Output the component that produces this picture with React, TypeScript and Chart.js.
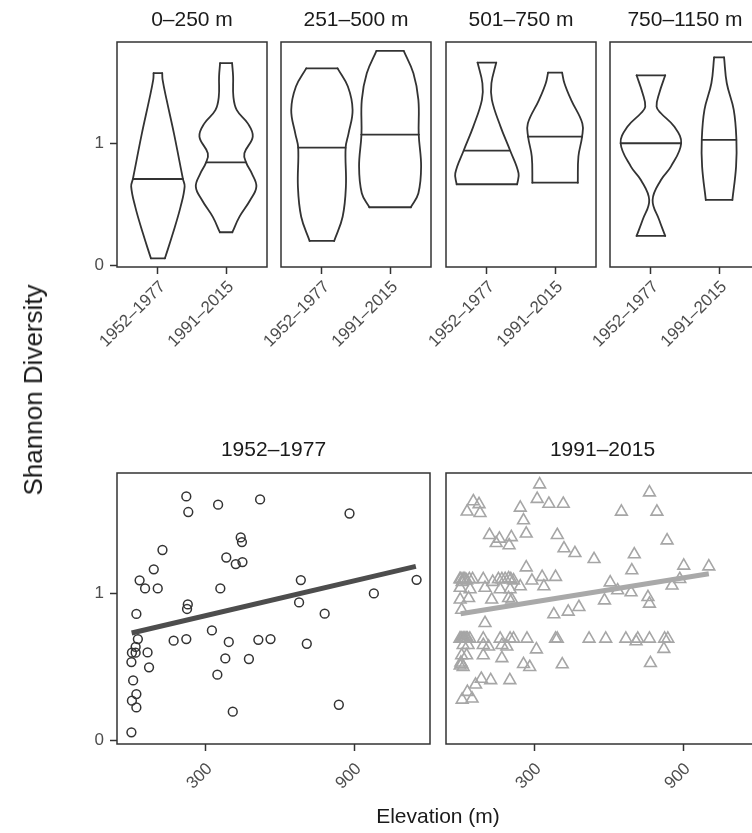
import React, { useEffect, useRef } from 'react';
import { Chart, registerables } from 'chart.js';
Chart.register(...registerables);

const FONT = "'Liberation Sans', Arial, Helvetica, sans-serif";

const bandLabels = ['0–250 m', '251–500 m', '501–750 m', '750–1150 m'];
const periodLabels = ['1952–1977', '1991–2015'];
const diversityTicks = [0, 1];
const elevationTicks = [300, 900];

// Violin outlines: [Shannon diversity, half width in category units]
const violin0_250_1952 = [[0.06, 0.103], [0.264, 0.22], [0.482, 0.333], [0.646, 0.392], [0.708, 0.367], [0.864, 0.312], [1.081, 0.235], [1.354, 0.128], [1.517, 0.069], [1.572, 0.063]];
const violin0_250_1991 = [[0.273, 0.092], [0.398, 0.195], [0.534, 0.352], [0.646, 0.444], [0.754, 0.377], [0.844, 0.293], [0.918, 0.268], [1.054, 0.391], [1.162, 0.318], [1.27, 0.157], [1.38, 0.107], [1.544, 0.103], [1.654, 0.088]];
const violin251_500_1952 = [[0.202, 0.18], [0.4, 0.304], [0.646, 0.352], [0.964, 0.348], [1.081, 0.391], [1.272, 0.45], [1.463, 0.381], [1.612, 0.23]];
const violin251_500_1991 = [[0.477, 0.304], [0.592, 0.415], [0.809, 0.455], [1.071, 0.42], [1.354, 0.415], [1.572, 0.342], [1.754, 0.2]];
const violin501_750_1952 = [[0.665, 0.444], [0.755, 0.464], [0.939, 0.342], [1.136, 0.2], [1.354, 0.073], [1.49, 0.066], [1.659, 0.137]];
const violin501_750_1991 = [[0.678, 0.333], [0.892, 0.342], [1.054, 0.396], [1.162, 0.4], [1.354, 0.235], [1.49, 0.137], [1.577, 0.103]];
const violin750_1150_1952 = [[0.243, 0.21], [0.373, 0.122], [0.537, 0.025], [0.7, 0.147], [0.809, 0.293], [1.0, 0.444], [1.136, 0.342], [1.245, 0.147], [1.299, 0.083], [1.408, 0.122], [1.555, 0.21]];
const violin750_1150_1991 = [[0.537, 0.195], [0.809, 0.249], [1.027, 0.254], [1.272, 0.215], [1.49, 0.113], [1.702, 0.073]];

// Medians: [diversity, half width]
const medians1952 = [[0.708, 0.367], [0.964, 0.347], [0.939, 0.327], [1.0, 0.444]];
const medians1991 = [[0.844, 0.293], [1.071, 0.423], [1.054, 0.398], [1.027, 0.252]];

const violins1952 = [violin0_250_1952, violin251_500_1952, violin501_750_1952, violin750_1150_1952];
const violins1991 = [violin0_250_1991, violin251_500_1991, violin501_750_1991, violin750_1150_1991];

// Scatter data
const elev1952 = [222, 230, 350, 519, 879, 126, 91, 34, 56, 107, 21, 27, 18, 3, 18, 66, 1, 72, 8, 21, 3, 21, 1, 228, 225, 171, 222, 325, 359, 383, 421, 448, 441, 446, 393, 379, 347, 474, 512, 561, 409, 683, 676, 707, 779, 836, 977, 1149];
const div1952 = [1.663, 1.557, 1.607, 1.643, 1.547, 1.298, 1.166, 1.091, 1.036, 1.036, 0.862, 0.691, 0.637, 0.598, 0.598, 0.6, 0.534, 0.498, 0.409, 0.316, 0.271, 0.225, 0.055, 0.927, 0.896, 0.68, 0.691, 0.75, 1.036, 1.247, 1.202, 1.216, 1.384, 1.352, 0.671, 0.559, 0.448, 0.555, 0.686, 0.691, 0.196, 1.093, 0.941, 0.659, 0.864, 0.243, 1.002, 1.095];

const elev1991 = [
  320, 310, 357, 415, 53, 76, 28, 80, 242, 255, 266, 118, 158, 206, 145, 197, 762, 649, 792, 391, 418, 462, 539, 701, 833,
  691, 900, 1001, 884, 853, 384, 604, 634, 688, 266, 289, 330, 337, 242, 581, 756, 762, 478, 435, 377,
  -1, 3, 8, 12, 19, 26, 37, 50, 93, 131, 154, 168, 181, 195, 204, 215,
  0, 40, 100, 161, 201,
  0, 34, 127, 195, 208,
  6, 100,
  -1, 3, 7, 12, 16, 20, 26, 30, 39, 93, 161, 201, 215, 269, 384, 391, 519, 586, 667, 708, 715, 762, 823, 836,
  12, 32, 93, 114, 168, 188, 307, 820,
  6, 26, 93, 168,
  0, 6, 12, 3, 255, 280, 411, 766,
  85, 123, 200,
  62, 29, 8, 48
];
const div1991 = [
  1.745, 1.646, 1.613, 1.613, 1.63, 1.61, 1.56, 1.55, 1.586, 1.5, 1.41, 1.4, 1.375, 1.385, 1.345, 1.33, 1.69, 1.559, 1.559, 1.4, 1.309, 1.277, 1.236, 1.268, 1.363,
  1.159, 1.191, 1.186, 1.1, 1.055, 1.114, 1.077, 1.023, 1.009, 1.179, 1.089, 1.114, 1.05, 1.05, 0.954, 0.977, 0.932, 0.909, 0.877, 0.859,
  1.099, 1.099, 1.08, 1.099, 1.099, 1.09, 1.099, 1.099, 1.099, 1.08, 1.099, 1.099, 1.1, 1.105, 1.099, 1.09,
  1.04, 1.03, 1.04, 1.03, 1.03,
  0.96, 0.97, 0.96, 0.97, 0.96,
  0.89, 0.8,
  0.693, 0.693, 0.693, 0.693, 0.693, 0.693, 0.693, 0.693, 0.693, 0.693, 0.693, 0.693, 0.693, 0.693, 0.693, 0.693, 0.693, 0.693, 0.693, 0.675, 0.693, 0.693, 0.693, 0.693,
  0.65, 0.65, 0.65, 0.64, 0.65, 0.64, 0.62, 0.623,
  0.58, 0.58, 0.58, 0.56,
  0.51, 0.52, 0.5, 0.53, 0.52, 0.5, 0.518, 0.527,
  0.42, 0.41, 0.41,
  0.38, 0.33, 0.277, 0.285
];

const fitElev = [2, 1146];
const fit1952 = [0.732, 1.186];
const fitElev1991 = [2, 1001];
const fit1991 = [0.864, 1.136];

const panelBorder = {
  id: 'panelBorder',
  afterDraw(chart: any) {
    const { ctx, chartArea } = chart;
    ctx.save();
    ctx.strokeStyle = '#333333';
    ctx.lineWidth = 1.5;
    ctx.strokeRect(chartArea.left, chartArea.top, chartArea.right - chartArea.left, chartArea.bottom - chartArea.top);
    ctx.restore();
  },
};

const L = 80;
const R = 80;

function tickGrid(show: boolean) {
  return { display: show, drawOnChartArea: false, drawTicks: show, tickLength: 7, tickColor: '#333333', tickWidth: 1.5 };
}

const tickFont = { family: FONT, size: 17 };

function yAxis(showY: boolean, min: number, max: number) {
  return {
    type: 'linear',
    display: true,
    min,
    max,
    afterBuildTicks: (axis: any) => { axis.ticks = diversityTicks.map((v) => ({ value: v })); },
    afterFit: (axis: any) => { axis.width = L; },
    ticks: { display: showY, padding: 6, color: '#4d4d4d', font: tickFont, callback: (v: any) => String(v) },
    grid: tickGrid(showY),
    border: { display: false },
  };
}

function titleOpts(text: string, centerY: number, T: number) {
  return {
    display: true,
    fullSize: false,
    text,
    color: '#1a1a1a',
    font: { family: FONT, size: 21, weight: 'normal', lineHeight: 1.2 },
    padding: { top: centerY - 12.6, bottom: T - centerY - 12.6 },
  };
}

function violinConfig(band: number, showY: boolean, T: number, B: number) {
  const datasets: any[] = [];
  const sets = [violins1952[band], violins1991[band]];
  const meds = [medians1952[band], medians1991[band]];
  const style = { showLine: true, borderColor: '#333333', borderWidth: 1.8, pointRadius: 0, pointHoverRadius: 0, fill: false, borderJoinStyle: 'round', borderCapStyle: 'round' };
  sets.forEach((prof, p) => {
    const c = p + 1;
    datasets.push({ ...style, tension: 0.4, data: prof.map(([v, hw]) => ({ x: c - hw, y: v })) });
    datasets.push({ ...style, tension: 0.4, data: prof.map(([v, hw]) => ({ x: c + hw, y: v })) });
    const b0 = prof[0];
    const bN = prof[prof.length - 1];
    datasets.push({ ...style, tension: 0, data: [{ x: c - b0[1], y: b0[0] }, { x: c + b0[1], y: b0[0] }] });
    datasets.push({ ...style, tension: 0, data: [{ x: c - bN[1], y: bN[0] }, { x: c + bN[1], y: bN[0] }] });
    const m = meds[p];
    datasets.push({ ...style, tension: 0, data: [{ x: c - m[1], y: m[0] }, { x: c + m[1], y: m[0] }] });
  });
  return {
    type: 'scatter',
    data: { datasets },
    plugins: [panelBorder],
    options: {
      animation: false,
      responsive: false,
      events: [],
      layout: { padding: { left: 0, right: R, top: 0, bottom: 0 } },
      plugins: {
        legend: { display: false },
        tooltip: { enabled: false },
        title: titleOpts(bandLabels[band], 20, T),
      },
      scales: {
        x: {
          type: 'linear',
          min: 0.4,
          max: 2.6,
          afterBuildTicks: (axis: any) => { axis.ticks = [1, 2].map((v) => ({ value: v })); },
          afterFit: (axis: any) => { axis.height = B; },
          ticks: {
            autoSkip: false,
            maxRotation: 45,
            minRotation: 45,
            padding: 3,
            labelOffset: 5,
            color: '#4d4d4d',
            font: tickFont,
            callback: (v: any) => periodLabels[Math.round(v) - 1],
          },
          grid: tickGrid(true),
          border: { display: false },
        },
        y: yAxis(showY, -0.011, 1.827),
      },
    },
  };
}

function scatterConfig(period: number, showY: boolean, T: number, B: number) {
  const is52 = period === 0;
  const xs = is52 ? elev1952 : elev1991;
  const ys = is52 ? div1952 : div1991;
  const fx = is52 ? fitElev : fitElev1991;
  const fy = is52 ? fit1952 : fit1991;
  const datasets: any[] = [
    {
      showLine: true,
      data: fx.map((x, i) => ({ x, y: fy[i] })),
      borderColor: is52 ? '#4d4d4d' : '#a9a9a9',
      borderWidth: 5,
      pointRadius: 0,
      borderCapStyle: 'butt',
    },
    {
      data: xs.map((x, i) => ({ x, y: ys[i] })),
      pointStyle: is52 ? 'circle' : 'triangle',
      pointRadius: is52 ? 4.4 : 6.8,
      borderColor: is52 ? '#333333' : '#a6a6a6',
      backgroundColor: 'rgba(0,0,0,0)',
      borderWidth: is52 ? 1.5 : 1.6,
    },
  ];
  return {
    type: 'scatter',
    data: { datasets },
    plugins: [panelBorder],
    options: {
      animation: false,
      responsive: false,
      events: [],
      layout: { padding: { left: 0, right: R, top: 0, bottom: 0 } },
      plugins: {
        legend: { display: false },
        tooltip: { enabled: false },
        title: titleOpts(periodLabels[period], 50.7, T),
      },
      scales: {
        x: {
          type: 'linear',
          min: -57,
          max: 1203,
          afterBuildTicks: (axis: any) => { axis.ticks = elevationTicks.map((v) => ({ value: v })); },
          afterFit: (axis: any) => { axis.height = B; },
          ticks: {
            autoSkip: false,
            maxRotation: 45,
            minRotation: 45,
            padding: 8,
            labelOffset: 4,
            color: '#4d4d4d',
            font: tickFont,
            callback: (v: any) => String(v),
          },
          grid: tickGrid(true),
          border: { display: false },
        },
        y: yAxis(showY, -0.0245, 1.823),
      },
    },
  };
}

type PanelSpec = { kind: 'violin' | 'scatter'; idx: number; areaLeft: number; areaW: number; top: number; height: number; T: number; B: number };

const TOP_CANVAS_H = 390;
const BOTTOM_TOP = 400;
const BOTTOM_H = 433;

const panels: PanelSpec[] = [
  ...[117, 281, 446, 610].map((left, i) => ({ kind: 'violin' as const, idx: i, areaLeft: left, areaW: 150, top: 0, height: TOP_CANVAS_H, T: 42, B: TOP_CANVAS_H - 267 })),
  ...[117, 446].map((left, i) => ({ kind: 'scatter' as const, idx: i, areaLeft: left, areaW: 313, top: BOTTOM_TOP, height: BOTTOM_H, T: 473 - BOTTOM_TOP, B: BOTTOM_TOP + BOTTOM_H - 744 })),
];

function Panel({ spec }: { spec: PanelSpec }) {
  const ref = useRef<HTMLCanvasElement | null>(null);
  const width = L + spec.areaW + R;
  useEffect(() => {
    if (!ref.current) return;
    const showY = spec.idx === 0;
    const cfg: any = spec.kind === 'violin'
      ? violinConfig(spec.idx, showY, spec.T, spec.B)
      : scatterConfig(spec.idx, showY, spec.T, spec.B);
    const chart = new Chart(ref.current, cfg);
    return () => chart.destroy();
  }, []);
  return (
    <canvas
      ref={ref}
      width={width}
      height={spec.height}
      style={{ position: 'absolute', left: spec.areaLeft - L, top: spec.top, width, height: spec.height }}
    />
  );
}

export default function App() {
  return (
    <div style={{ position: 'absolute', left: 0, top: 0, width: 752, height: 833, overflow: 'hidden', background: '#ffffff' }}>
      {panels.map((p, i) => (
        <Panel key={i} spec={p} />
      ))}
      <div
        style={{
          position: 'absolute', left: 33, top: 390, transform: 'translate(-50%, -50%) rotate(-90deg)',
          fontFamily: FONT, fontSize: 26, color: '#1a1a1a', whiteSpace: 'nowrap', lineHeight: 1,
        }}
      >
        Shannon Diversity
      </div>
      <div
        style={{
          position: 'absolute', left: 438, top: 815, transform: 'translate(-50%, -50%)',
          fontFamily: FONT, fontSize: 21, color: '#1a1a1a', whiteSpace: 'nowrap', lineHeight: 1,
        }}
      >
        Elevation (m)
      </div>
    </div>
  );
}
